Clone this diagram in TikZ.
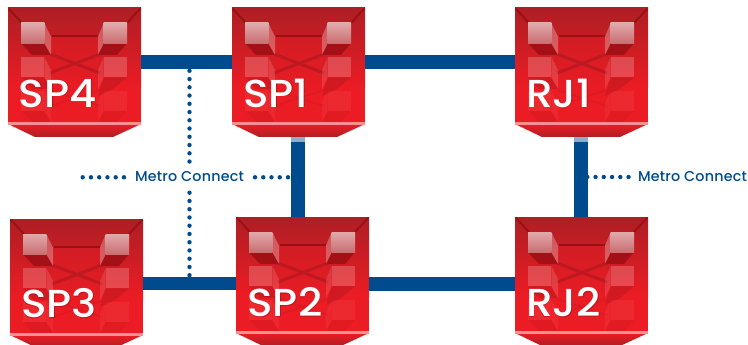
\documentclass[tikz,border=0pt]{standalone}
\usepackage{fontspec}
\setmainfont{Poppins}
\newfontfamily\labelfont[FakeStretch=1.08]{Poppins Medium}
\newfontfamily\metrofont[LetterSpace=1.5]{Poppins Medium}
\definecolor{linkblue}{HTML}{004B8D}
\definecolor{linklight}{HTML}{8FADCB}
\definecolor{redtop}{HTML}{AE1E24}
\definecolor{redmain}{HTML}{EC1C24}
\definecolor{redpanel}{HTML}{D41C24}
\definecolor{redline}{HTML}{9C1015}
\definecolor{redcross}{HTML}{BE1820}
\definecolor{pinkband}{HTML}{F78E92}
\tikzset{
  x=1pt,y=-1pt,
  routerbox/.style={minimum width=133pt,minimum height=129pt,inner sep=0pt,outer sep=0pt},
  routerlabel/.style={anchor=base west,inner sep=0pt,outer sep=0pt,text=white,font=\labelfont\fontsize{39}{39}\selectfont},
  routershadow/.style={anchor=base west,inner sep=0pt,outer sep=0pt,text=redline,opacity=.55,font=\labelfont\fontsize{39}{39}\selectfont},
  metrolabel/.style={anchor=west,inner sep=0pt,outer sep=0pt,text=linkblue,font=\metrofont\fontsize{14.3}{14.3}\selectfont},
  link/.style={draw=linkblue,line width=13.5pt},
  linkcap/.style={draw=linklight,line width=13.5pt},
  metrodots/.style={draw=linkblue,line width=4.4pt,line cap=round,dash pattern=on 0pt off 8.25pt},
}
% #1 name, #2 left, #3 top, #4 text, #5 text x (relative), #6 baseline (relative)
\newcommand\routericon[6]{%
  \begin{scope}[shift={(#2,#3)}]
    \node[routerbox] (#1) at (66.5,64.5) {};
    % body
    \fill[redmain] (0,78) rectangle (133,115);
    \shade[top color=redtop,bottom color=redmain] (0,0) rectangle (133,80);
    % back panel
    \shade[top color=redpanel,bottom color=redmain,opacity=.9] (43.5,28) rectangle (90,90);
    \draw[redline,line width=2pt] (0.5,0.5) -- (14,15);
    \draw[redline,line width=2pt] (132.5,0.5) -- (119,15);
    \draw[redline,line width=2.5pt] (43.5,28) -- (90,28);
    \draw[redcross,line width=3pt] (42,46) -- (92,65);
    \draw[redcross,line width=3pt] (42,65) -- (92,46);
    \draw[redcross,line width=2pt,opacity=.25] (42,82) -- (92,98);
    \draw[redcross,line width=2pt,opacity=.25] (42,98) -- (92,82);
    % lower cubes
    \foreach \ox/\sx in {13/36.3,119/95.7}{
      \fill[white,opacity=.06] (\ox,83) rectangle (\sx,103);
    }
    \fill[redcross,opacity=.25] (13,103) -- (36.3,103) -- (43,114) -- (24,114) -- cycle;
    \fill[redcross,opacity=.2] (119,103) -- (95.7,103) -- (90,114) -- (109,114) -- cycle;
    \fill[white,opacity=.05] (36.3,83) -- (43,95) -- (43,114) -- (36.3,103) -- cycle;
    \fill[white,opacity=.05] (95.7,83) -- (90,95) -- (90,114) -- (95.7,103) -- cycle;
    % middle cubes
    \fill[redcross,opacity=.55] (13,69.3) -- (36.3,69.3) -- (43,81) -- (24,81) -- cycle;
    \fill[redcross,opacity=.55] (119,69.3) -- (95.7,69.3) -- (90,88) -- (105,81) -- cycle;
    \fill[white,opacity=.14] (36.3,48.7) -- (43,62) -- (43,81) -- (36.3,69.3) -- cycle;
    \fill[white,opacity=.12] (95.7,48.7) -- (90,62) -- (90,81) -- (95.7,69.3) -- cycle;
    \fill[white,opacity=.2] (13,48.7) rectangle (36.3,69.3);
    \fill[white,opacity=.2] (95.7,48.7) rectangle (119,69.3);
    % top cubes
    \fill[redline,opacity=.85] (13,35.3) -- (36.3,35.3) -- (43,47) -- (24,47) -- cycle;
    \fill[redline,opacity=.85] (95.7,35.3) -- (119,35.3) -- (109,47) -- (90,47) -- cycle;
    \fill[white,opacity=.28] (36.3,15) -- (43,28.7) -- (43,47) -- (36.3,35.3) -- cycle;
    \fill[white,opacity=.28] (95.7,15) -- (90,28.7) -- (90,47) -- (95.7,35.3) -- cycle;
    \shade[top color=white!62!redtop,bottom color=white!35!redtop] (13,15) rectangle (36.3,35.3);
    \shade[top color=white!62!redtop,bottom color=white!35!redtop] (95.7,15) rectangle (119,35.3);
    % base
    \shade[top color=redmain,bottom color=redtop] (0,116) -- (133,116) -- (105,129) -- (27,129) -- cycle;
    \fill[pinkband] (0,114.2) rectangle (133,116.8);
    % label
    \node[routershadow] (#1s) at (#5+0.7,#6+1) {#4};
    \node[routerlabel] (#1t) at (#5,#6) {#4};
  \end{scope}%
}
\begin{document}
\begin{tikzpicture}
  \useasboundingbox (0,0) rectangle (748,345);
  \clip (0,0) rectangle (748,345);
  \routericon{spf}{8}{8}{SP4}{11}{99}
  \routericon{spo}{232}{8}{SP1}{11}{99}
  \routericon{rjo}{515}{8}{RJ1}{11}{99}
  \routericon{spt}{10}{219}{SP3}{11}{98}
  \routericon{spw}{236}{217}{SP2}{11.5}{99}
  \routericon{rjw}{515}{217}{RJ2}{11}{99}

  % solid links
  \draw[link] ([yshift=10.5pt]spf.east) -- ([yshift=10.5pt]spo.west);
  \draw[link] ([yshift=10.5pt]spo.east) -- ([yshift=10.5pt]rjo.west);
  \draw[link] (spt.east) -- (spt.east -| spw.west);
  \draw[link] ([yshift=-2.5pt]spw.east) -- ([yshift=-2.5pt]rjw.west);
  \draw[link] ([xshift=-0.5pt]spo.south) -- ([xshift=-0.5pt]spo.south |- spw.north);
  \draw[link] ([xshift=-0.5pt]rjo.south) -- ([xshift=-0.5pt]rjw.north);
  \draw[linkcap] ([xshift=-0.5pt]spo.south) -- ++(0,5);
  \draw[linkcap] ([xshift=-0.5pt]rjo.south) -- ++(0,5);

  % labels
  \node[metrolabel] (mca) at (135,176.3) {Metro Connect};
  \node[metrolabel] (mcb) at (638,176.3) {Metro Connect};

  % dotted connectors
  \coordinate (va) at (189.5,70.8);
  \coordinate (vb) at (189.5,163);
  \coordinate (vc) at (189.5,192.7);
  \coordinate (vd) at (189.5,277);
  \coordinate (ha) at (82.7,177.3);
  \coordinate (hb) at (125,177.3);
  \coordinate (hc) at (255,177.3);
  \coordinate (hd) at (289,177.3);
  \coordinate (he) at (587.3,177);
  \coordinate (hf) at (630,177);
  \draw[metrodots] (va) -- (vb);
  \draw[metrodots] (vc) -- (vd);
  \draw[metrodots] (ha) -- (hb);
  \draw[metrodots] (hc) -- (hd);
  \draw[metrodots] (he) -- (hf);
\end{tikzpicture}
\end{document}
